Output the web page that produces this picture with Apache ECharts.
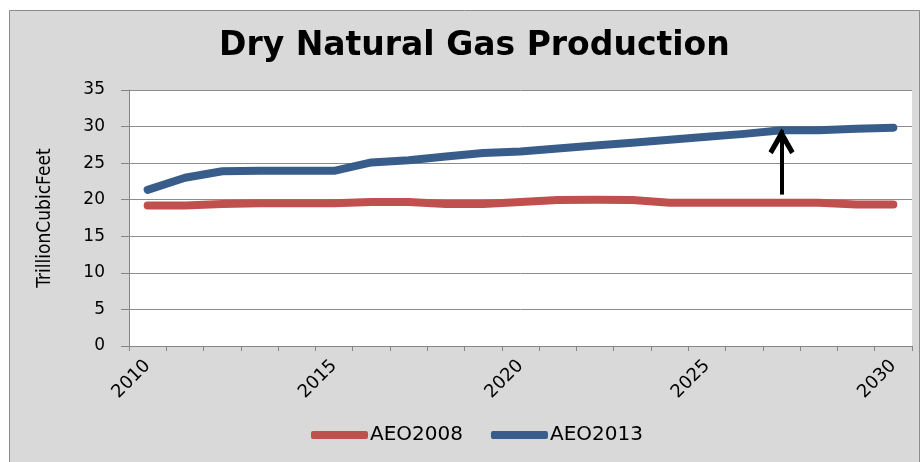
<!DOCTYPE html>
<html>
<head>
<meta charset="utf-8">
<script src="https://cdn.jsdelivr.net/npm/echarts@6/dist/echarts.min.js"></script>
<style>
  html, body { margin: 0; padding: 0; background: #fff; }
  #chart { width: 924px; height: 462px; }
</style>
</head>
<body>
<div id="chart"></div>
<script>
// years on the category axis
const years = ['2010', '2011', '2012', '2013', '2014', '2015', '2016', '2017', '2018', '2019',
  '2020', '2021', '2022', '2023', '2024', '2025', '2026', '2027', '2028', '2029', '2030']
// trillion cubic feet
const aeo2008 = [19.2, 19.2, 19.4, 19.5, 19.5, 19.5, 19.7, 19.7, 19.4, 19.4,
  19.7, 19.95, 20.0, 19.95, 19.6, 19.6, 19.6, 19.6, 19.6, 19.35, 19.35]
const aeo2013 = [21.35, 23.0, 23.9, 23.95, 23.95, 23.95, 25.1, 25.4, 25.9, 26.4,
  26.6, 27.0, 27.4, 27.8, 28.2, 28.6, 29.0, 29.5, 29.5, 29.7, 29.85]
// arrow from the old outlook up to the new one
const arrowYear = '2027'
const arrowFrom = 20.7
const arrowTo = 29.5

const mychart = echarts.init(document.getElementById('chart'))
mychart.setOption({
  backgroundColor: '#ffffff',
  animation: false,
  graphic: [{
    type: 'rect',
    z: -10,
    shape: { x: 9.5, y: 10.5, width: 910, height: 470 },
    style: { fill: '#d9d9d9', stroke: '#8c8c8c', lineWidth: 1 }
  }],
  title: {
    text: 'Dry Natural Gas Production',
    left: 214,
    top: 25,
    textStyle: {
      fontFamily: 'DejaVu Sans',
      fontWeight: 'bold',
      fontSize: 33,
      color: '#000'
    }
  },
  legend: {
    top: 420,
    left: 306,
    icon: 'roundRect',
    itemWidth: 57,
    itemHeight: 8,
    itemGap: 28,
    textStyle: { fontFamily: 'DejaVu Sans', fontSize: 20, color: '#000', padding: [0, 0, 0, -3] },
    data: ['AEO2008', 'AEO2013']
  },
  grid: {
    left: 129,
    right: 12,
    top: 90,
    bottom: 116,
    show: true,
    backgroundColor: '#ffffff',
    borderWidth: 0
  },
  xAxis: {
    type: 'category',
    data: years,
    boundaryGap: true,
    axisLine: { lineStyle: { color: '#868686', width: 1 } },
    axisTick: { show: true, interval: 0, length: 5, lineStyle: { color: '#868686' } },
    axisLabel: {
      interval: 4,
      rotate: 45,
      margin: 17,
      fontFamily: 'DejaVu Sans',
      fontSize: 18,
      color: '#000'
    }
  },
  yAxis: {
    type: 'value',
    min: 0,
    max: 35,
    interval: 5,
    name: 'TrillionCubicFeet',
    nameLocation: 'middle',
    nameGap: 74,
    nameTextStyle: { fontFamily: 'DejaVu Sans Condensed, Liberation Sans, sans-serif', fontSize: 19, color: '#000' },
    axisLine: { show: true, lineStyle: { color: '#868686', width: 1 } },
    axisTick: { show: true, inside: false, length: 8, lineStyle: { color: '#868686' } },
    axisLabel: { margin: 24, fontFamily: 'DejaVu Sans', fontSize: 17, color: '#000' },
    splitLine: { lineStyle: { color: '#8c8c8c', width: 1 } }
  },
  series: [
    {
      name: 'AEO2008',
      type: 'line',
      data: aeo2008,
      showSymbol: false,
      symbol: 'none',
      color: '#c0504d',
      lineStyle: { width: 8, color: '#c0504d', cap: 'round', join: 'round' }
    },
    {
      name: 'AEO2013',
      type: 'line',
      data: aeo2013,
      showSymbol: false,
      symbol: 'none',
      color: '#385d8a',
      lineStyle: { width: 8, color: '#385d8a', cap: 'round', join: 'round' },
      markLine: {
        silent: true,
        symbol: ['none', 'path://M0,9 L5,0 L10,9 L8.4,10.2 L5,4.2 L1.6,10.2 Z'],
        symbolSize: [26, 26],
        symbolOffset: [0, [0, 11]],
        label: { show: false },
        lineStyle: { color: '#000', width: 4, type: 'solid' },
        data: [[
          { coord: [arrowYear, arrowFrom] },
          { coord: [arrowYear, arrowTo] }
        ]]
      }
    }
  ]
})
</script>
</body>
</html>
